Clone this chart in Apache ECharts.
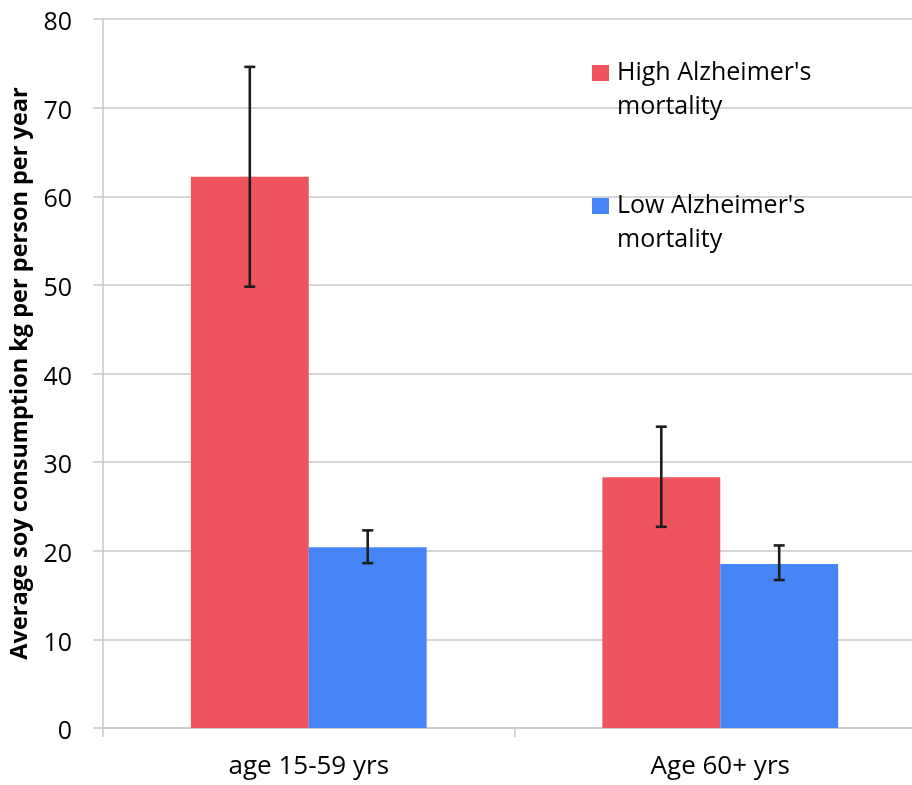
<!DOCTYPE html>
<html>
<head>
<meta charset="utf-8">
<script src="https://cdn.jsdelivr.net/npm/echarts@6/dist/echarts.min.js"></script>
<style>
html,body{margin:0;padding:0;background:#fff;}
#chart{width:912px;height:785px;}
</style>
</head>
<body>
<div id="chart"></div>
<script>
const categories = ['age 15-59 yrs', 'Age 60+ yrs'];
const seriesNames = ["High Alzheimer's mortality", "Low Alzheimer's mortality"];
const legendLines = [["High Alzheimer's", "mortality"], ["Low Alzheimer's", "mortality"]];
const highValues = [62.2, 28.3];
const lowValues = [20.4, 18.5];
const highErrLow = [49.8, 22.7];
const highErrHigh = [74.6, 34.0];
const lowErrLow = [18.6, 16.7];
const lowErrHigh = [22.3, 20.6];
const yTicks = { min: 0, max: 80, interval: 10 };
const yAxisTitle = 'Average soy consumption kg per person per year';

const FONT = '"Open Sans", Lato, sans-serif';
const CAT_GAP = 0.427;
const RED = '#EE545E';
const BLUE = '#4585F5';
const GRID = '#c9c9c9';

function errorSeries(lows, highs, side) {
  return {
    type: 'custom',
    silent: true,
    z: 10,
    clip: false,
    data: categories.map((c, i) => [i, lows[i], highs[i]]),
    renderItem: function (params, api) {
      const idx = api.value(0);
      const catW = api.size([1, 0])[0];
      const barW = catW * (1 - CAT_GAP) / 2;
      const p1 = api.coord([idx, api.value(1)]);
      const p2 = api.coord([idx, api.value(2)]);
      const x = p1[0] + side * barW / 2;
      const cap = 5.5;
      const style = { stroke: '#1e1e1e', lineWidth: 2.6 };
      return {
        type: 'group',
        children: [
          { type: 'line', shape: { x1: x, y1: p1[1], x2: x, y2: p2[1] }, style: style },
          { type: 'line', shape: { x1: x - cap, y1: p1[1], x2: x + cap, y2: p1[1] }, style: style },
          { type: 'line', shape: { x1: x - cap, y1: p2[1], x2: x + cap, y2: p2[1] }, style: style }
        ]
      };
    }
  };
}

const chart = echarts.init(document.getElementById('chart'), null, { renderer: 'canvas' });
chart.setOption({
  animation: false,
  backgroundColor: '#fff',
  grid: { left: 103, width: 823, top: 19, height: 709, containLabel: false, outerBoundsMode: 'none' },
  legend: {
    orient: 'vertical',
    left: 592,
    top: 22,
    padding: 0,
    itemWidth: 17,
    itemHeight: 16,
    itemGap: 31,
    icon: 'rect',
    selectedMode: false,
    data: seriesNames,
    formatter: function (name) {
      const i = seriesNames.indexOf(name);
      return '\n' + legendLines[i].join('\n');
    },
    textStyle: {
      fontFamily: FONT,
      fontSize: 25,
      color: '#000',
      lineHeight: 34,
      padding: [0, 0, 0, 3]
    }
  },
  xAxis: {
    type: 'category',
    data: categories,
    axisLine: { show: true, lineStyle: { color: GRID, width: 1.5 } },
    axisTick: { show: true, length: 9, lineStyle: { color: GRID, width: 1.5 } },
    axisLabel: { fontFamily: FONT, fontSize: 26, color: '#000', margin: 26 },
    splitLine: { show: false }
  },
  yAxis: {
    type: 'value',
    min: yTicks.min,
    max: yTicks.max,
    interval: yTicks.interval,
    name: yAxisTitle,
    nameLocation: 'middle',
    nameGap: 65,
    nameTextStyle: { fontFamily: FONT, fontSize: 23.5, fontWeight: 'bold', color: '#000' },
    axisLine: { show: true, lineStyle: { color: GRID, width: 1.5 } },
    axisTick: { show: true, length: 10, lineStyle: { color: GRID, width: 1.5 } },
    axisLabel: {
      margin: 31,
      formatter: '{a|{value}}',
      rich: { a: { fontFamily: FONT, fontSize: 25, color: '#000', padding: [8, 0, 0, 0] } }
    },
    splitLine: { show: true, lineStyle: { color: GRID, width: 1.5 } }
  },
  series: [
    {
      name: seriesNames[0], type: 'bar', data: highValues,
      itemStyle: { color: RED }, barGap: '0%', barCategoryGap: (CAT_GAP * 100) + '%'
    },
    {
      name: seriesNames[1], type: 'bar', data: lowValues,
      itemStyle: { color: BLUE }, barGap: '0%', barCategoryGap: (CAT_GAP * 100) + '%'
    },
    errorSeries(highErrLow, highErrHigh, -1),
    errorSeries(lowErrLow, lowErrHigh, 1)
  ]
});
</script>
</body>
</html>
